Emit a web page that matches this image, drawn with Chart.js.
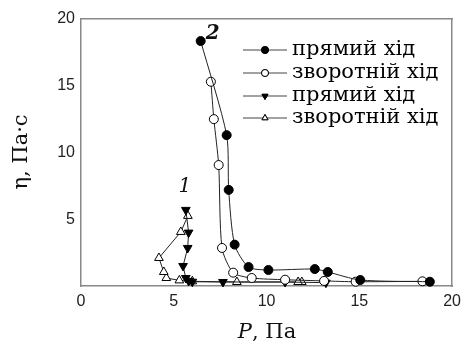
<!DOCTYPE html>
<html>
<head>
<meta charset="utf-8">
<script src="https://cdn.jsdelivr.net/npm/chart.js@4.4.1/dist/chart.umd.min.js"></script>
<style>
  html, body { margin: 0; padding: 0; background: #fff; }
  #wrap { width: 463px; height: 354px; position: relative; }
</style>
</head>
<body>
<div id="wrap"><canvas id="viscChart"></canvas></div>
<script>
// curve 2: forward and reverse runs
const fwd2P = [6.45, 7.85, 7.96, 8.28, 9.03, 10.1, 12.6, 13.3, 15.05, 18.8];
const fwd2Eta = [18.35, 11.3, 7.2, 3.1, 1.42, 1.2, 1.27, 1.05, 0.45, 0.32];
const rev2P = [7.0, 7.16, 7.42, 7.6, 8.2, 9.2, 11.0, 13.1, 14.8, 18.4];
const rev2Eta = [15.3, 12.5, 9.06, 2.85, 1.0, 0.6, 0.47, 0.38, 0.32, 0.35];

// curve 1: forward and reverse runs (in measurement order)
const fwd1P = [5.65, 5.8, 5.75, 5.5, 5.65, 5.8, 6.0, 7.65, 11.0, 13.2];
const fwd1Eta = [5.7, 4.0, 2.85, 1.5, 0.6, 0.38, 0.32, 0.3, 0.3, 0.25];
const rev1P = [11.9, 11.7, 8.4, 6.0, 5.3, 4.6, 4.46, 4.2, 5.38, 5.76];
const rev1Eta = [0.3, 0.3, 0.3, 0.35, 0.42, 0.6, 1.05, 2.1, 4.05, 5.25];

const legendLabels = ['прямий хід', 'зворотній хід', 'прямий хід', 'зворотній хід'];
const xTicks = [0, 5, 10, 15, 20];
const yTicks = [5, 10, 15, 20];

const toPoints = (xs, ys) => xs.map((x, i) => ({ x: x, y: ys[i] }));

const serif = '"DejaVu Serif", "Liberation Serif", serif';
const sans = '"Liberation Sans", Arial, sans-serif';

const chartArea = { left: 81, right: 453, top: 19, bottom: 286 };

const legendPlugin = {
  id: 'lineLegend',
  afterDraw(chart) {
    const ctx = chart.ctx;
    const rows = [50, 73, 96, 118];
    ctx.save();
    chart.data.datasets.forEach((ds, i) => {
      const y = rows[i];
      ctx.strokeStyle = '#444';
      ctx.lineWidth = 1;
      ctx.beginPath();
      ctx.moveTo(243, y);
      ctx.lineTo(287, y);
      ctx.stroke();
      Chart.helpers.drawPoint(ctx, {
        pointStyle: ds.pointStyle,
        radius: 3.5,
        rotation: ds.rotation || 0,
        borderWidth: 1
      }, 265, y);
      ctx.fillStyle = ds.pointBackgroundColor;
      ctx.strokeStyle = '#000';
      ctx.fill();
      ctx.stroke();
      ctx.fillStyle = '#000';
      ctx.font = '21px ' + serif;
      ctx.textBaseline = 'middle';
      ctx.textAlign = 'left';
      ctx.fillText(legendLabels[i], 292, y);
    });
    ctx.restore();
  }
};

const annotationPlugin = {
  id: 'curveNumbers',
  afterDraw(chart) {
    const ctx = chart.ctx;
    const xs = chart.scales.x, ys = chart.scales.y;
    ctx.save();
    ctx.fillStyle = '#111';
    ctx.textAlign = 'center';
    ctx.textBaseline = 'middle';
    ctx.font = 'italic bold 20px ' + serif;
    ctx.fillText('2', xs.getPixelForValue(7.1), ys.getPixelForValue(18.9));
    ctx.font = 'italic 20px ' + serif;
    ctx.fillText('1', xs.getPixelForValue(5.6), ys.getPixelForValue(7.4));

    // axis titles
    ctx.textAlign = 'left';
    const xTitleRest = ', Па';
    ctx.font = '21px ' + serif;
    const restW = ctx.measureText(xTitleRest).width;
    ctx.font = 'italic 21px ' + serif;
    const pW = ctx.measureText('P').width;
    const x0 = 267 - (pW + restW) / 2;
    ctx.fillText('P', x0, 333);
    ctx.font = '21px ' + serif;
    ctx.fillText(xTitleRest, x0 + pW, 333);

    ctx.translate(22, 152);
    ctx.rotate(-Math.PI / 2);
    ctx.textAlign = 'center';
    ctx.fillText('η, Па·с', 0, 0);
    ctx.restore();
  }
};

const lineColor = '#222';

new Chart(document.getElementById('viscChart'), {
  type: 'scatter',
  data: {
    datasets: [
      {
        data: toPoints(fwd2P, fwd2Eta),
        showLine: true,
        tension: 0.25,
        borderColor: lineColor,
        borderWidth: 1,
        pointStyle: 'circle',
        pointRadius: 4.5,
        pointBackgroundColor: '#000',
        pointBorderColor: '#000'
      },
      {
        data: toPoints(rev2P, rev2Eta),
        showLine: true,
        tension: 0.25,
        borderColor: lineColor,
        borderWidth: 1,
        pointStyle: 'circle',
        pointRadius: 4.5,
        pointBackgroundColor: '#fff',
        pointBorderColor: '#000'
      },
      {
        data: toPoints(fwd1P, fwd1Eta),
        showLine: true,
        tension: 0,
        borderColor: lineColor,
        borderWidth: 1,
        pointStyle: 'triangle',
        rotation: 180,
        pointRotation: 180,
        pointRadius: 5,
        pointBackgroundColor: '#000',
        pointBorderColor: '#000'
      },
      {
        data: toPoints(rev1P, rev1Eta),
        showLine: true,
        tension: 0,
        borderColor: lineColor,
        borderWidth: 1,
        pointStyle: 'triangle',
        pointRadius: 5,
        pointBackgroundColor: '#fff',
        pointBorderColor: '#000'
      }
    ]
  },
  options: {
    responsive: true,
    maintainAspectRatio: false,
    animation: false,
    clip: false,
    layout: { padding: { top: chartArea.top, right: 463 - chartArea.right, left: 0, bottom: 0 } },
    plugins: { legend: { display: false }, tooltip: { enabled: false } },
    scales: {
      x: {
        type: 'linear',
        min: 0, max: 20,
        afterFit: s => { s.height = 354 - chartArea.bottom; },
        afterBuildTicks: s => { s.ticks = xTicks.map(v => ({ value: v })); },
        grid: { display: false, drawTicks: true, tickLength: 4, tickColor: '#888' },
        border: { color: '#888', width: 1.5 },
        ticks: { color: '#222', font: { family: sans, size: 16 }, padding: 2 }
      },
      x2: {
        type: 'linear', position: 'top', min: 0, max: 20,
        grid: { display: false, drawTicks: false },
        border: { color: '#888', width: 1.5 },
        ticks: { display: false },
        afterFit: s => { s.height = 0; }
      },
      y: {
        type: 'linear',
        min: 0, max: 20,
        afterFit: s => { s.width = chartArea.left; },
        afterBuildTicks: s => { s.ticks = yTicks.map(v => ({ value: v })); },
        grid: { display: false, drawTicks: true, tickLength: 4, tickColor: '#888' },
        border: { color: '#888', width: 1.5 },
        ticks: { color: '#222', font: { family: sans, size: 16 }, padding: 2 }
      },
      y2: {
        type: 'linear', position: 'right', min: 0, max: 20,
        grid: { display: false, drawTicks: false },
        border: { color: '#888', width: 1.5 },
        ticks: { display: false },
        afterFit: s => { s.width = 0; }
      }
    }
  },
  plugins: [legendPlugin, annotationPlugin]
});
</script>
</body>
</html>
